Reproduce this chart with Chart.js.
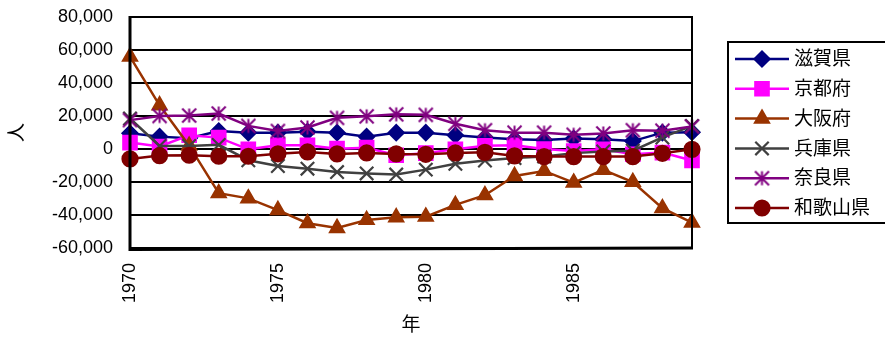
<!DOCTYPE html>
<html>
<head>
<meta charset="utf-8">
<script src="https://cdn.jsdelivr.net/npm/chart.js@4/dist/chart.umd.min.js"></script>
<style>
  html, body { margin: 0; padding: 0; background: #fff; }
  #wrap { width: 885px; height: 337px; }
</style>
</head>
<body>
<div id="wrap"><canvas id="c" width="885" height="337"></canvas></div>
<script>
// Net population movement by prefecture (Kinki region), 1970-1989
const years = ['1970','1971','1972','1973','1974','1975','1976','1977','1978','1979',
               '1980','1981','1982','1983','1984','1985','1986','1987','1988','1989'];
const shownYears = ['1970','1975','1980','1985'];

const shiga    = [9500, 7500, 6500, 10900, 9900, 9900, 10500, 9900, 7500, 9900,
                  9900, 8300, 6900, 5900, 5500, 6300, 5900, 4800, 9900, 10200];
const kyoto    = [3900, 1500, 8300, 6900, -200, 2200, 2200, 200, 800, -3800,
                  -2500, -200, 2000, 2300, 0, -1200, -200, -3200, -2200, -7000];
const osaka    = [56000, 26500, 2000, -26800, -29900, -37000, -45000, -47900, -43000, -41400,
                  -41000, -33900, -28000, -16400, -13300, -20400, -12700, -20000, -35900, -44600];
const hyogo    = [18500, 1800, 1800, 2500, -6800, -10300, -11900, -14000, -14800, -15500,
                  -12500, -9000, -7000, -5500, -4500, -2500, -1500, -1000, 7000, 14000];
const nara     = [17500, 20000, 20300, 21500, 14000, 10900, 13000, 18900, 19800, 21000,
                  20700, 15300, 11400, 9900, 9900, 8600, 9400, 11400, 11100, 13600];
const wakayama = [-6000, -4000, -3800, -4400, -4400, -2900, -1800, -3000, -2400, -3000,
                  -3200, -2400, -2000, -4200, -4600, -4600, -4600, -4600, -2600, -200];

const seriesNames = ['滋賀県','京都府','大阪府','兵庫県','奈良県','和歌山県'];

const FONT = "'Liberation Sans', 'Noto Sans CJK JP', Arial, sans-serif";

// six-spoke asterisk marker
function asteriskMarker(color) {
  const s = 17, c = s / 2, r = 7;
  const cv = document.createElement('canvas');
  cv.width = s; cv.height = s;
  const g = cv.getContext('2d');
  g.strokeStyle = color; g.lineWidth = 2; g.lineCap = 'butt';
  g.beginPath();
  g.moveTo(c, c - r); g.lineTo(c, c + r);
  g.moveTo(c - r, c - r); g.lineTo(c + r, c + r);
  g.moveTo(c + r, c - r); g.lineTo(c - r, c + r);
  g.stroke();
  return cv;
}

const styles = [
  { color: '#000080', pointStyle: 'rectRot',  radius: 7.5 },
  { color: '#FF00FF', pointStyle: 'rect',     radius: 9.5 },
  { color: '#993300', pointStyle: 'triangle', radius: 8 },
  { color: '#404040', pointStyle: 'crossRot', radius: 9.5 },
  { color: '#800080', pointStyle: asteriskMarker('#800080'), radius: 8 },
  { color: '#800000', pointStyle: 'circle',   radius: 7.5 }
];
const values = [shiga, kyoto, osaka, hyogo, nara, wakayama];

const datasets = seriesNames.map((name, i) => ({
  label: name,
  data: values[i],
  borderColor: styles[i].color,
  backgroundColor: styles[i].color,
  borderWidth: 2.5,
  pointStyle: styles[i].pointStyle,
  pointRadius: styles[i].radius,
  pointHoverRadius: styles[i].radius,
  pointBorderWidth: 2.2,
  pointBackgroundColor: styles[i].color,
  pointBorderColor: styles[i].color,
  tension: 0,
  order: seriesNames.length - i   // later series drawn on top
}));

// frame round the plot area
const frame = {
  id: 'frame',
  afterDatasetsDraw(chart) {
    const { ctx, chartArea: a } = chart;
    ctx.save();
    ctx.strokeStyle = '#000';
    ctx.lineWidth = 2;
    ctx.strokeRect(a.left, a.top, a.right - a.left, a.bottom - a.top);
    ctx.lineWidth = 3;
    ctx.beginPath();
    ctx.moveTo(a.left, a.top - 1); ctx.lineTo(a.left, a.bottom + 1.5);
    ctx.lineTo(a.right + 1, a.bottom);
    ctx.stroke();
    ctx.restore();
  }
};

// boxed legend with line + marker samples
const boxLegend = {
  id: 'boxLegend',
  afterDraw(chart) {
    const { ctx } = chart;
    const x0 = 728, y0 = 42, y1 = 223;
    ctx.save();
    ctx.strokeStyle = '#000';
    ctx.lineWidth = 2;
    ctx.strokeRect(x0, y0, 200, y1 - y0);
    chart.data.datasets.forEach((ds, i) => {
      const y = 59 + i * 29.8;
      ctx.strokeStyle = ds.borderColor;
      ctx.lineWidth = 2.5;
      ctx.beginPath();
      ctx.moveTo(735, y); ctx.lineTo(789, y);
      ctx.stroke();
      const opts = {
        pointStyle: ds.pointStyle, radius: ds.pointRadius, rotation: 0,
        borderWidth: ds.pointBorderWidth
      };
      ctx.fillStyle = ds.pointBackgroundColor;
      ctx.strokeStyle = ds.pointBorderColor;
      ctx.lineWidth = ds.pointBorderWidth;
      Chart.helpers.drawPoint(ctx, opts, 762, y);
      ctx.fillStyle = '#000';
      ctx.font = '19px ' + FONT;
      ctx.textAlign = 'left';
      ctx.textBaseline = 'middle';
      ctx.fillText(ds.label, 794, y + 1);
    });
    ctx.restore();
  }
};

new Chart(document.getElementById('c'), {
  type: 'line',
  data: { labels: years, datasets },
  options: {
    responsive: false,
    animation: false,
    devicePixelRatio: 1,
    layout: { padding: { top: 17, right: 193, left: 0, bottom: 0 } },
    plugins: { legend: { display: false }, tooltip: { enabled: false } },
    scales: {
      x: {
        type: 'category',
        offset: false,
        grid: { display: false, drawTicks: false },
        border: { display: false },
        ticks: {
          autoSkip: false,
          maxRotation: 90,
          minRotation: 90,
          padding: 15,
          color: '#000',
          font: { family: FONT, size: 18 },
          callback: (v, i) => shownYears.includes(years[i]) ? years[i] : ''
        },
        title: { display: true, text: '年', color: '#000',
                 font: { family: FONT, size: 19 }, padding: { top: 0, bottom: 0 } },
        afterFit: s => { s.height = 89; s.paddingLeft = 0; s.paddingRight = 0; }
      },
      y: {
        min: -60000,
        max: 80000,
        grid: { color: '#000', lineWidth: 2, drawTicks: false },
        border: { display: false },
        ticks: {
          stepSize: 20000,
          padding: 17,
          color: '#000',
          font: { family: FONT, size: 18 },
          callback: v => v.toLocaleString('en-US')
        },
        title: { display: true, text: '人', color: '#000',
                 font: { family: FONT, size: 19 }, padding: { top: 6, bottom: 0 } },
        afterFit: s => { s.width = 130; s.paddingTop = 0; s.paddingBottom = 0; }
      }
    }
  },
  plugins: [frame, boxLegend]
});
</script>
</body>
</html>
